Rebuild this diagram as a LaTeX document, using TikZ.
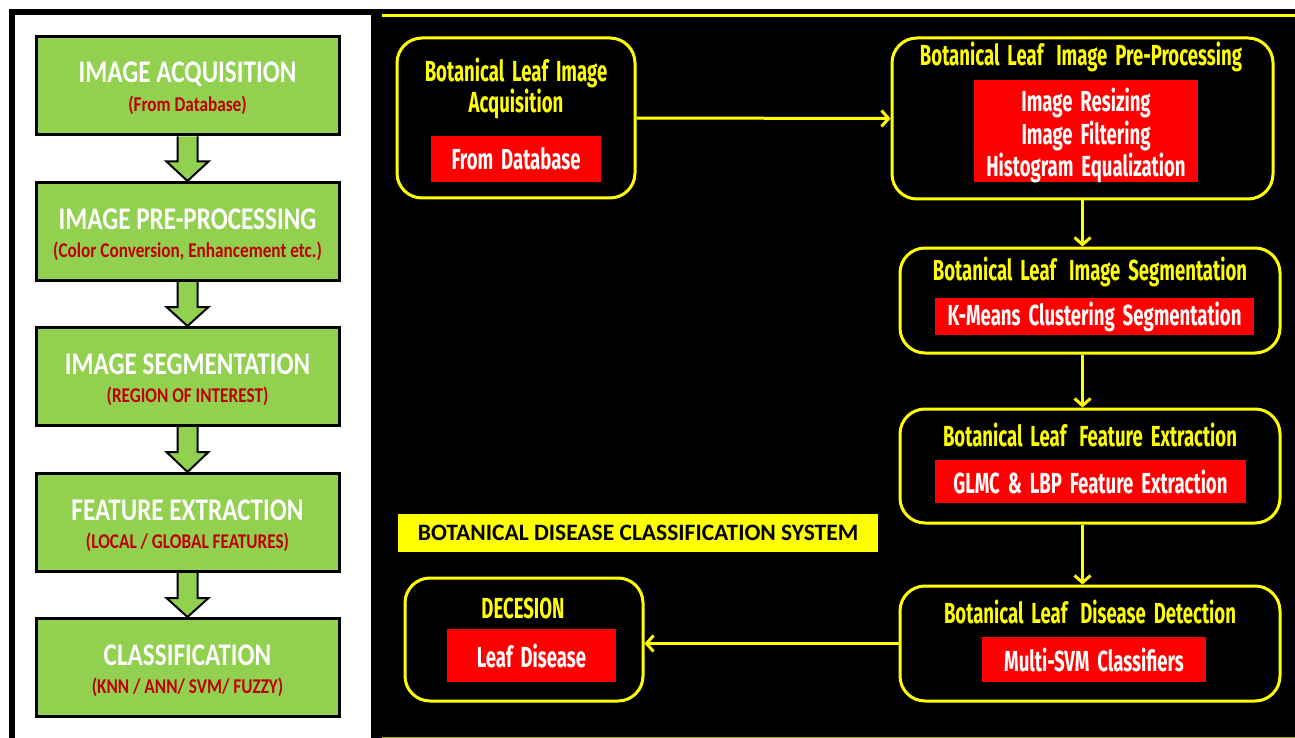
\documentclass[tikz,border=0pt]{standalone}
\usepackage{fontspec}
\setmainfont{Carlito}
\newfontfamily\ctitle[FakeStretch=0.80]{Carlito}
\newfontfamily\csub[FakeStretch=0.82]{Carlito}
\newfontfamily\agency[FakeStretch=0.64,WordSpace=1.8]{Fira Sans}
\newcommand{\dsp}{\ \hspace{5pt}}
\usetikzlibrary{arrows.meta,calc}
\definecolor{lgreen}{HTML}{92D050}
\definecolor{dred}{HTML}{C00000}
\definecolor{rbox}{HTML}{FF0000}
\definecolor{yel}{HTML}{FFFF00}
\begin{document}
\begin{tikzpicture}[x=1pt,y=-1pt,
  greenbox/.style={draw=black, line width=3pt, fill=lgreen, minimum width=303pt, minimum height=98pt, inner sep=0pt},
  gtitle/.style={text=white, font=\ctitle\bfseries\fontsize{31.5}{33}\selectfont, inner sep=0pt},
  gsub/.style={text=dred, font=\csub\bfseries\fontsize{21}{23}\selectfont, inner sep=0pt},
  garrow/.style={draw=black, line width=2pt, fill=lgreen, line join=miter},
  ybox/.style={draw=yel, line width=3pt, rounded corners=25pt, fill=black, inner sep=0pt},
  ytitle/.style={text=yel, font=\agency\bfseries\fontsize{29}{31}\selectfont, inner sep=0pt, align=center},
  redbox/.style={fill=rbox, text=white, font=\agency\bfseries\fontsize{29}{32.5}\selectfont, inner sep=0pt, align=center},
  redtext/.style={text=white, font=\agency\bfseries\fontsize{29}{32.5}\selectfont, inner sep=0pt, align=center},
  yarrow/.style={draw=yel, line width=3pt, -{Straight Barb[length=7pt,width=16pt]}}
]
\useasboundingbox (0,0) rectangle (1295,738);
\fill[white] (0,0) rectangle (1295,738);
\fill[black] (9,9) rectangle (1295,738);
\fill[white] (15,15) rectangle (371,738);
\draw[yel, line width=3pt] (382,16) -- (1295,16);
\draw[yel!70!black, line width=1.5pt] (382,737.5) -- (1295,737.5);

% left panel
\node[greenbox] (g1) at (187.5,86) {};
\node[greenbox] (g2) at (187.5,231.5) {};
\node[greenbox] (g3) at (187.5,376.5) {};
\node[greenbox] (g4) at (187.5,522.5) {};
\node[greenbox] (g5) at (187.5,667.5) {};
\node[gtitle] (g1t) at (187.5,74) {IMAGE ACQUISITION};
\node[gsub] (g1s) at (187.5,105) {(From Database)};
\node[gtitle] (g2t) at (187.5,219) {IMAGE PRE-PROCESSING};
\node[gsub] (g2s) at (187.5,251) {(Color Conversion, Enhancement etc.)};
\node[gtitle] (g3t) at (187.5,364) {IMAGE SEGMENTATION};
\node[gsub] (g3s) at (187.5,396) {(REGION OF INTEREST)};
\node[gtitle] (g4t) at (187.5,510) {FEATURE EXTRACTION};
\node[gsub] (g4s) at (187.5,542) {(LOCAL / GLOBAL FEATURES)};
\node[gtitle] (g5t) at (187.5,655) {CLASSIFICATION};
\node[gsub] (g5s) at (187.5,687) {(KNN / ANN/ SVM/ FUZZY)};
\foreach \a/\b in {g1/g2,g2/g3,g3/g4,g4/g5}{
  \draw[garrow] ($(\a.south)+(-10,0)$) -- ++(0,25) -- ++(-11,0) -- (\b.north) -- ($(\a.south)+(21,25)$) -- ++(-11,0) -- ($(\a.south)+(10,0)$);
}

% right panel
\node[ybox, minimum width=238pt, minimum height=160pt] (A) at (516,118) {};
\node[ytitle] (At) at (516,88) {Botanical Leaf Image\\Acquisition};
\node[redbox, minimum width=170pt, minimum height=46pt] (Ar) at (516,159) {From Database};

\node[ybox, minimum width=381pt, minimum height=161pt] (B) at (1082.5,118.5) {};
\node[ytitle] (Bt) at (1081,57) {Botanical Leaf\dsp Image Pre-Processing};
\node[fill=rbox, minimum width=224pt, minimum height=102pt, inner sep=0pt] (Br) at (1086,131) {};
\node[redtext] (Brt) at (1086,135.5) {Image Resizing\\Image Filtering\\Histogram Equalization};

\node[ybox, minimum width=380pt, minimum height=105pt] (C) at (1090,300.5) {};
\node[ytitle] (Ct) at (1090,272) {Botanical Leaf\dsp Image Segmentation};
\node[redbox, minimum width=319pt, minimum height=37pt] (Cr) at (1094.5,316.5) {K-Means Clustering Segmentation};

\node[ybox, minimum width=380pt, minimum height=114pt] (D) at (1090,466) {};
\node[ytitle] (Dt) at (1090,435) {Botanical Leaf\dsp Feature Extraction};
\node[redbox, minimum width=311pt, minimum height=43pt] (Dr) at (1090.5,481.5) {GLMC \& LBP Feature Extraction};

\node[ybox, minimum width=380pt, minimum height=115pt] (E) at (1090,643.5) {};
\node[ytitle] (Et) at (1090,612) {Botanical Leaf\dsp Disease Detection};
\node[redbox, minimum width=224pt, minimum height=45pt] (Er) at (1094,659.5) {Multi-SVM Classifiers};

\node[ybox, minimum width=238pt, minimum height=123pt] (F) at (524,639.5) {};
\node[ytitle] (Ft) at (523,608) {DECESION};
\node[redbox, minimum width=169pt, minimum height=53pt] (Fr) at (531.5,655.5) {Leaf Disease};

\node[fill=yel, text=black, minimum width=480pt, minimum height=38pt, inner sep=0pt, font=\bfseries\fontsize{23.5}{26}\selectfont] (L) at (638,533) {BOTANICAL DISEASE CLASSIFICATION SYSTEM};

\draw[yarrow] (A.east) -- (B.west);
\draw[yarrow] (B.south) -- (B.south |- C.north);
\draw[yarrow] (C.south -| B.south) -- (D.north -| B.south);
\draw[yarrow] (D.south -| B.south) -- (E.north -| B.south);
\draw[yarrow] (E.west) -- (E.west -| F.east);
\end{tikzpicture}
\end{document}
